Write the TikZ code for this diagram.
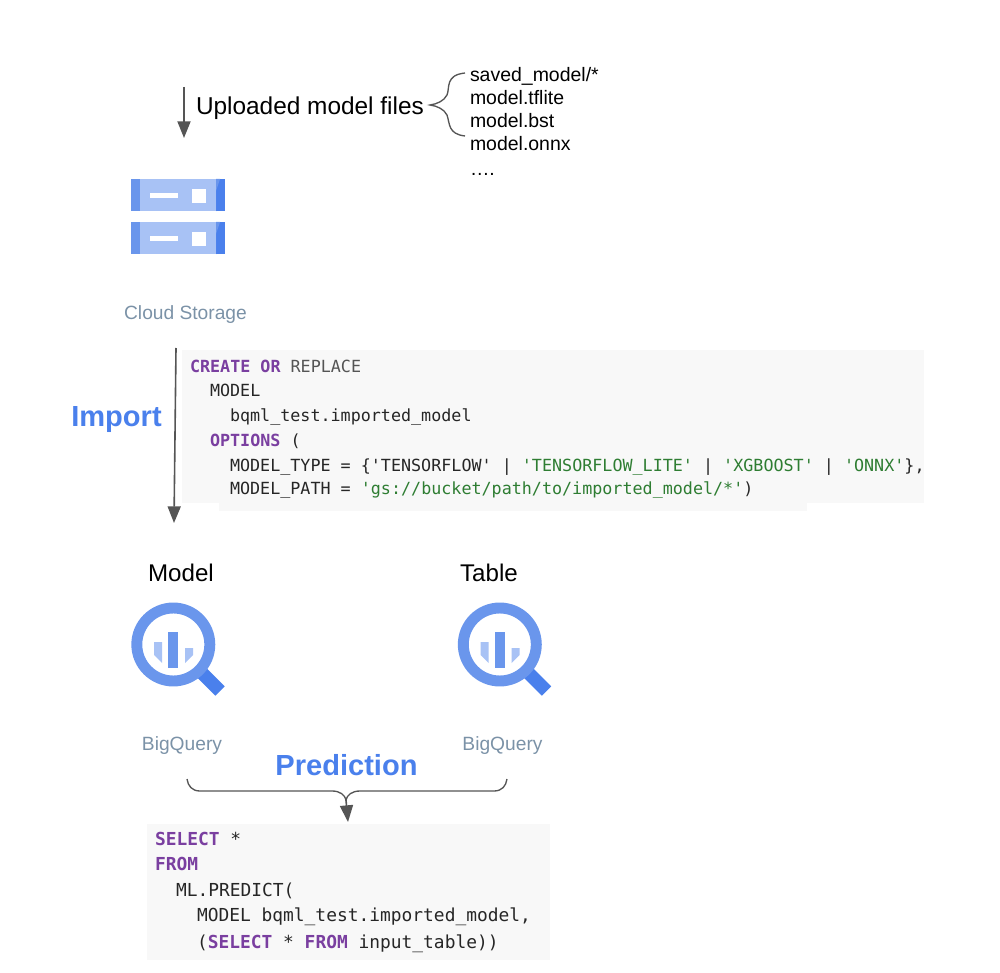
\documentclass[tikz,border=0pt]{standalone}
\usepackage{fontspec}
\setmainfont{Liberation Sans}
\setmonofont{DejaVu Sans Mono}
\usetikzlibrary{arrows.meta}
\definecolor{kwpurple}{HTML}{7A3FA0}
\definecolor{strgreen}{HTML}{2E7D32}
\definecolor{codetext}{HTML}{262626}
\definecolor{kwgrey}{HTML}{555555}
\definecolor{codebg}{HTML}{F8F8F8}
\definecolor{arrowgrey}{HTML}{555555}
\definecolor{captiongrey}{HTML}{7B92A7}
\definecolor{titleblue}{HTML}{4A80EC}
\definecolor{gcpdark}{HTML}{4A80EC}
\definecolor{gcpmid}{HTML}{6A96EC}
\definecolor{gcplight}{HTML}{A8C2F5}
\newcommand{\kwd}[1]{\textcolor{kwpurple}{\bfseries #1}}
\newcommand{\strg}[1]{\textcolor{strgreen}{#1}}
\tikzset{
  x=0.75pt,y=-0.75pt,
  every node/.style={inner sep=0pt,outer sep=0pt},
  flowarrow/.style={draw=arrowgrey,line width=1.2pt,-{Triangle[length=12.5pt,width=9.8pt]}},
  curlyline/.style={draw=arrowgrey,line width=1pt},
  codeback/.style={fill=codebg,draw=none},
  codeA/.style={anchor=base west,text=codetext,font=\ttfamily\fontsize{12.54}{15}\selectfont},
  codeB/.style={anchor=base west,text=codetext,font=\ttfamily\fontsize{13.42}{16}\selectfont},
  listitem/.style={anchor=base west,text=black,font=\fontsize{14.6}{17}\selectfont},
  heading/.style={anchor=base,text=black,font=\fontsize{18.1}{22}\selectfont},
  caption/.style={anchor=base,text=captiongrey,font=\fontsize{14.4}{17}\selectfont},
  bluetitle/.style={anchor=base,text=titleblue,font=\bfseries\fontsize{21.8}{26}\selectfont},
  storagerow/.pic={
    \fill[gcplight] (131,0) rectangle (225,32.5);
    \fill[gcpmid] (131,0) rectangle (140,32.5);
    \fill[gcpdark] (216,0) rectangle (225,32.5);
    \fill[gcpmid] (216,32.5) -- (216,12) -- (220,0) -- (216,0) -- cycle;
    \fill[white] (150,14.5) rectangle (178,19);
    \fill[white] (192,10) rectangle (206,24);
  },
  bqicon/.pic={
    \draw[gcpdark,line width=10pt] (198,669) -- (220,691);
    \draw[gcpmid,line width=8.2pt] (173.3,644.5) circle[radius=36.5];
    \fill[gcpmid] (168,632) rectangle (178,668);
    \fill[gcplight] (154,642) -- (162,642) -- (162,663) -- (154,655) -- cycle;
    \fill[gcplight] (185,648) -- (193,648) -- (193,655) -- (185,663) -- cycle;
  }
}
\begin{document}
\begin{tikzpicture}
\useasboundingbox (0,0) rectangle (1000,973);
% code backgrounds
\fill[codeback] (182,350) rectangle (924,503);
\fill[codeback] (219,503) rectangle (807,511);
\fill[codeback] (147,824) rectangle (550,960);
% upload
\coordinate (upA) at (184,87);
\coordinate (upB) at (184,138);
\draw[flowarrow] (upA) -- (upB);
\node[anchor=base west,text=black,font=\fontsize{18.3}{22}\selectfont] (uploaded) at (196,115) {Uploaded model files};
\coordinate (braceTip) at (430,105);
\coordinate (braceTop) at (465,73);
\coordinate (braceBot) at (465,136);
\draw[curlyline] (braceTop) .. controls (445,75) and (450,88) .. (447,95) .. controls (444,101) and (437,104) .. (braceTip) .. controls (437,106) and (444,109) .. (447,115) .. controls (450,124) and (448,134) .. (braceBot);
\node[listitem] (l1) at (470,82) {saved\_model/*};
\node[listitem] (l2) at (470,105) {model.tflite};
\node[listitem] (l3) at (470,128) {model.bst};
\node[listitem] (l4) at (470,151) {model.onnx};
\node[listitem] (l5) at (470,176) {\ldots.};
% storage icon
\pic at (0,179) {storagerow};
\pic at (0,222) {storagerow};
\node[caption] (cs) at (185.5,319.5) {Cloud Storage};
% import
\coordinate (impA) at (176,348);
\coordinate (impB) at (174,523);
\draw[flowarrow] (impA) -- (impB);
\node[bluetitle] (import) at (116.5,426.5) {Import};
\node[codeA] (a1) at (190,373) {\kwd{CREATE OR} \textcolor{kwgrey}{REPLACE}};
\node[codeA] (a2) at (210,397) {MODEL};
\node[codeA] (a3) at (230,422) {bqml\_test.imported\_model};
\node[codeA] (a4) at (210,446.5) {\kwd{OPTIONS} (};
\node[codeA] (a5) at (230,471.5) {MODEL\_TYPE = \{'TENSORFLOW' | \strg{'TENSORFLOW\_LITE'} | \strg{'XGBOOST'} | \strg{'ONNX'}\},};
\node[codeA] (a6) at (230,495) {MODEL\_PATH = \strg{'gs://bucket/path/to/imported\_model/*'})};
% BigQuery
\node[heading] (model) at (181,581) {Model};
\node[heading] (table) at (489,581) {Table};
\pic at (0,0) {bqicon};
\pic at (326.5,0) {bqicon};
\node[caption] (bq1) at (182,750) {BigQuery};
\node[caption] (bq2) at (502.5,750) {BigQuery};
\node[bluetitle] (prediction) at (346.5,775) {Prediction};
% join brace
\coordinate (jL) at (187,779);
\coordinate (jR) at (507,779);
\coordinate (jTip) at (346,800);
\coordinate (jEnd) at (348,822);
\draw[curlyline] (jL) .. controls (188,786) and (192,791) .. (200,791) -- (332,791) .. controls (340,791) and (345,795) .. (jTip) .. controls (347,795) and (352,791) .. (360,791) -- (494,791) .. controls (502,791) and (506,786) .. (jR);
\draw[flowarrow] (jTip) -- (jEnd);
% prediction code
\node[codeB] (b1) at (155,845) {\kwd{SELECT} *};
\node[codeB] (b2) at (155,870) {\kwd{FROM}};
\node[codeB] (b3) at (176,896) {ML.PREDICT(};
\node[codeB] (b4) at (197,921) {MODEL bqml\_test.imported\_model,};
\node[codeB] (b5) at (197,948) {(\kwd{SELECT} * \kwd{FROM} input\_table))};
\end{tikzpicture}
\end{document}
